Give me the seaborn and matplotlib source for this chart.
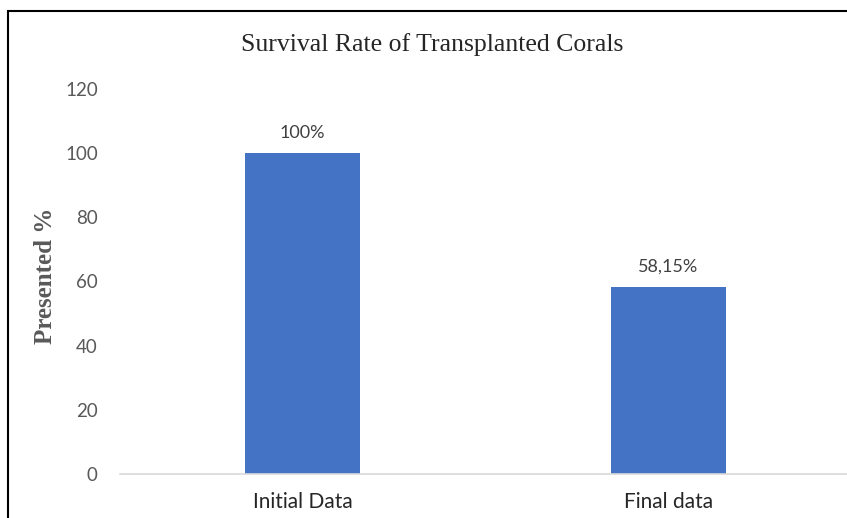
import matplotlib
matplotlib.use("Agg")
import matplotlib.pyplot as plt
import seaborn as sns
import pandas as pd
from matplotlib.patches import Rectangle

categories = ["Initial Data", "Final data"]
values = [100, 58.15]
value_labels = ["100%", "58,15%"]
yticks = [0, 20, 40, 60, 80, 100, 120]

sns.set_theme(style="white")
plt.rcParams['font.family'] = ['Lato', 'DejaVu Sans']

fig = plt.figure(figsize=(8.47, 5.18), dpi=100)
ax = fig.add_axes([120/847, 44/518, 731/847, (474-88.8)/518])

df = pd.DataFrame({"cat": categories, "val": values})
sns.barplot(data=df, x="cat", y="val", color="#4472C4", saturation=1,
            width=0.315, ax=ax, linewidth=0)

ax.set_ylim(0, 120)
ax.set_yticks(yticks)
ax.set_yticklabels([str(t) for t in yticks], fontsize=13.5, color="#595959")
ax.tick_params(axis='y', length=0, pad=16)
ax.tick_params(axis='x', length=0, pad=13, labelsize=15, labelcolor="#262626")
for s in ["top", "right", "left"]:
    ax.spines[s].set_visible(False)
ax.spines["bottom"].set_color("#d9d9d9")
ax.spines["bottom"].set_linewidth(1.2)

ax.set_xlabel("")
ax.set_ylabel("Presented %", family="Liberation Serif", fontweight="bold",
              fontsize=18, color="#595959")
ax.yaxis.set_label_coords(-0.086, 0.515)

for i, (v, lab) in enumerate(zip(values, value_labels)):
    ax.annotate(lab, (i, v), xytext=(0, 9), textcoords="offset points",
                ha="center", va="bottom", fontsize=13, color="#404040")

fig.text(432/847, 1 - 45/518, "Survival Rate of Transplanted Corals",
         family="Liberation Serif", fontsize=18.5, color="#262626",
         ha="center", va="center")

fig.patches.append(Rectangle((8/847, -0.1), 2.0, 1 - 11/518 + 0.1,
                             transform=fig.transFigure, fill=False,
                             edgecolor="black", linewidth=1.5))

fig.savefig("out.png", dpi=100)
